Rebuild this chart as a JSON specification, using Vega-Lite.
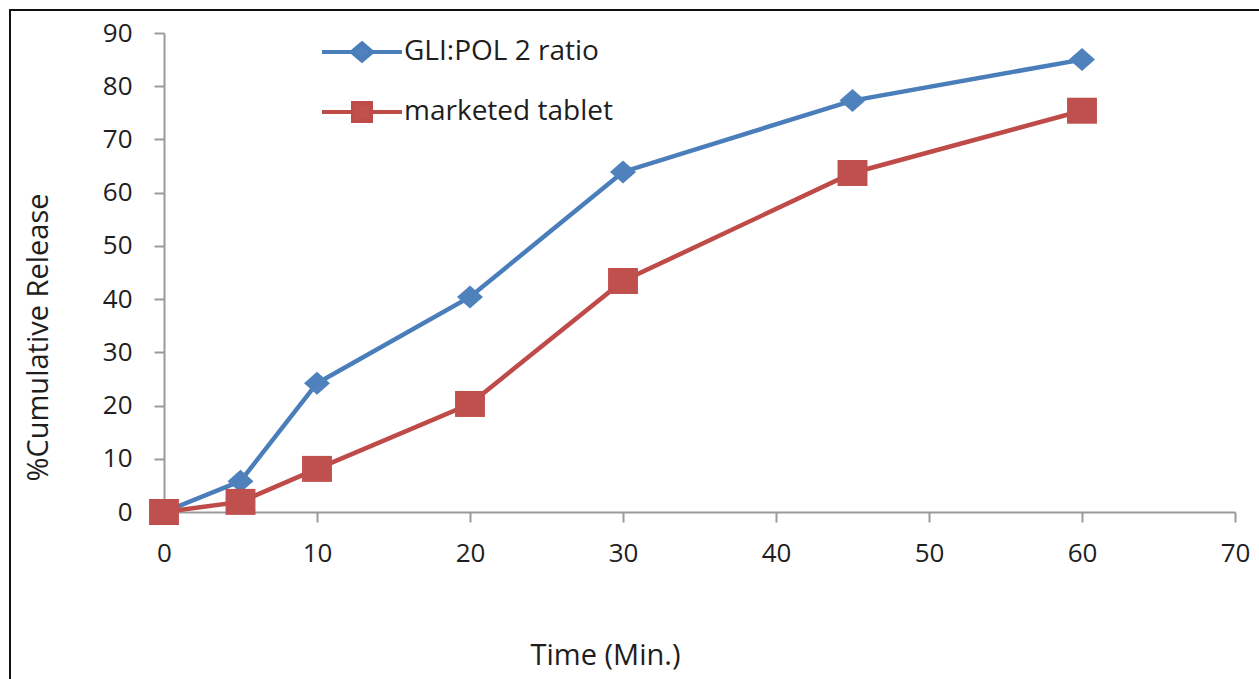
{
  "$schema": "https://vega.github.io/schema/vega-lite/v6.json",
  "width": 1254,
  "height": 674,
  "autosize": "none",
  "padding": {"left": 10, "top": 10, "right": -5, "bottom": -5},
  "background": "white",
  "config": {
    "font": "Open Sans",
    "view": {"stroke": "#111111", "strokeWidth": 2},
    "axis": {
      "grid": false,
      "domainColor": "#9a9a9a",
      "domainWidth": 2,
      "tickColor": "#9a9a9a",
      "tickWidth": 2,
      "tickSize": 10,
      "labelFont": "Open Sans",
      "labelFontSize": 26,
      "labelColor": "#1e1e1e",
      "titleFont": "Open Sans",
      "titleFontSize": 29,
      "titleFontWeight": "normal",
      "titleColor": "#1e1e1e"
    }
  },
  "data": {
    "values": [
      {"time": 0, "release": 0, "series": "GLI:POL 2 ratio"},
      {"time": 5, "release": 5.8, "series": "GLI:POL 2 ratio"},
      {"time": 10, "release": 24.2, "series": "GLI:POL 2 ratio"},
      {"time": 20, "release": 40.4, "series": "GLI:POL 2 ratio"},
      {"time": 30, "release": 63.9, "series": "GLI:POL 2 ratio"},
      {"time": 45, "release": 77.3, "series": "GLI:POL 2 ratio"},
      {"time": 60, "release": 85.0, "series": "GLI:POL 2 ratio"},
      {"time": 0, "release": 0, "series": "marketed tablet"},
      {"time": 5, "release": 1.9, "series": "marketed tablet"},
      {"time": 10, "release": 8.1, "series": "marketed tablet"},
      {"time": 20, "release": 20.3, "series": "marketed tablet"},
      {"time": 30, "release": 43.4, "series": "marketed tablet"},
      {"time": 45, "release": 63.7, "series": "marketed tablet"},
      {"time": 60, "release": 75.4, "series": "marketed tablet"}
    ]
  },
  "encoding": {
    "x": {
      "field": "time",
      "type": "quantitative",
      "scale": {"domain": [0, 70], "range": [154, 1225], "nice": false},
      "axis": {
        "title": "Time (Min.)",
        "offset": -172,
        "values": [0, 10, 20, 30, 40, 50, 60, 70],
        "labelPadding": 18,
        "labelFlush": false,
        "titleX": 595,
        "titleY": 143,
        "titleAlign": "center",
        "titleBaseline": "middle",
        "titleAnchor": null
      }
    },
    "y": {
      "field": "release",
      "type": "quantitative",
      "scale": {"domain": [0, 90], "range": [502, 23], "nice": false},
      "axis": {
        "title": "%Cumulative Release",
        "offset": -154,
        "values": [0, 10, 20, 30, 40, 50, 60, 70, 80, 90],
        "labelPadding": 22,
        "labelFlush": false,
        "titleX": -126,
        "titleY": 327,
        "titleAngle": -90,
        "titleAlign": "center",
        "titleBaseline": "middle",
        "titleAnchor": null
      }
    }
  },
  "layer": [
    {
      "mark": {"type": "line", "strokeWidth": 4.5},
      "encoding": {
        "color": {
          "field": "series",
          "type": "nominal",
          "scale": {"domain": ["GLI:POL 2 ratio", "marketed tablet"], "range": ["#4a7ebb", "#be4b48"]},
          "legend": {
            "title": null,
            "orient": "none",
            "legendX": 335,
            "legendY": 25,
            "padding": 0,
            "symbolSize": 900,
            "symbolStrokeWidth": 4,
            "symbolOpacity": 1,
            "rowPadding": 26,
            "labelOffset": 25,
            "labelFont": "Open Sans",
            "labelFontSize": 28,
            "labelColor": "#1e1e1e",
            "labelLimit": 400,
            "encode": {
              "symbols": {
                "update": {
                  "size": {"value": 900},
                  "strokeWidth": {"value": 4},
                  "shape": {"signal": "datum.value === 'marketed tablet' ? 'M-2.667,0H-0.6M0.6,0H2.667M-0.6,-0.6H0.6V0.6H-0.6Z' : 'M-2.667,0H-0.68M0.68,0H2.667M0,-0.58L0.68,0L0,0.58L-0.68,0Z'"},
                  "fill": {"signal": "datum.value === 'marketed tablet' ? '#c0504d' : '#4f81bd'"}
                }
              }
            }
          }
        }
      }
    },
    {
      "transform": [{"filter": "datum.series === 'GLI:POL 2 ratio'"}],
      "mark": {
        "type": "point",
        "shape": "M0,-0.885L1,0L0,0.885L-1,0Z",
        "filled": true,
        "color": "#4f81bd",
        "opacity": 1,
        "size": 676
      },
      "encoding": {}
    },
    {
      "transform": [{"filter": "datum.series === 'marketed tablet'"}],
      "mark": {
        "type": "point",
        "shape": "M-1.15,-1H1.15V1H-1.15Z",
        "filled": true,
        "color": "#c0504d",
        "opacity": 1,
        "size": 676
      },
      "encoding": {}
    }
  ]
}
